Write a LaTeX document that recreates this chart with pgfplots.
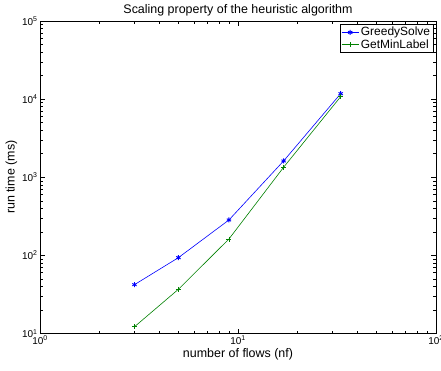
\documentclass[border=0pt]{standalone}
\usepackage{pgfplots}
\pgfplotsset{compat=1.18}
\usepackage{fontspec}
\setmainfont{Liberation Sans}
\definecolor{mblue}{rgb}{0,0,1}
\definecolor{mgreen}{rgb}{0,0.5,0}
\begin{document}
\begin{tikzpicture}[x=1bp,y=1bp]
\begin{axis}[
  at={(40bp,36.5bp)}, anchor=south west,
  width=396bp, height=312.5bp, scale only axis,
  xmode=log, ymode=log,
  xmin=1, xmax=100, ymin=10, ymax=100000,
  xtick={1,10,100}, ytick={10,100,1000,10000,100000},
  xticklabels={10\textsuperscript{0},10\textsuperscript{1},10\textsuperscript{2}},
  yticklabels={10\textsuperscript{1},10\textsuperscript{2},10\textsuperscript{3},10\textsuperscript{4},10\textsuperscript{5}},
  tick pos=both, tick align=inside,
  major tick length=5bp, minor tick length=3bp,
  every tick/.style={black, line width=0.5pt},
  axis line style={line width=0.9pt},
  tick label style={font=\fontsize{10}{11}\selectfont},
  xticklabel style={yshift=1bp},
  yticklabel style={xshift=1bp},
  /pgf/number format/assume math mode=true,
  title={Scaling property of the heuristic algorithm},
  title style={font=\fontsize{12.5}{14}\selectfont, yshift=-5bp},
  xlabel={number of flows (nf)},
  ylabel={run time (ms)},
  label style={font=\fontsize{12.5}{14}\selectfont},
  xlabel style={yshift=3bp},
  ylabel style={yshift=-2bp},
  legend style={at={(0.993,0.99)}, anchor=north east,
    font=\fontsize{12}{13}\selectfont, inner sep=1pt, row sep=-2pt,
    cells={anchor=west}},
  legend cell align=left,
]
\addplot[color=mblue, line width=0.6pt, mark=asterisk, mark size=2.5pt, mark options={line width=0.9pt}]
  coordinates {(3,42.2) (5,93.5) (9,284) (17,1618) (33,11750)};
\addlegendentry{GreedySolve}
\addplot[color=mgreen, line width=0.6pt, mark=+, mark size=2.5pt, mark options={line width=0.7pt}]
  coordinates {(3,12.2) (5,36.8) (9,162) (17,1343) (33,10770)};
\addlegendentry{GetMinLabel}
\end{axis}
\pgfresetboundingbox
\path[use as bounding box] (0,0) rectangle (441,370);
\end{tikzpicture}
\end{document}
